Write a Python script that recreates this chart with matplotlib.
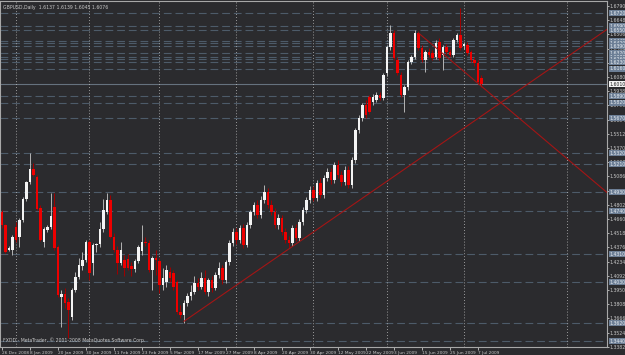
import matplotlib
matplotlib.use("Agg")
import matplotlib.pyplot as plt
import matplotlib.transforms as mtransforms
import numpy as np
import pandas as pd

# GBPUSD daily, 26 Dec 2008 - 8 Jul 2009
open_ = [1.473, 1.460, 1.435, 1.435, 1.458, 1.448, 1.465, 1.486, 1.503, 1.516,
         1.508, 1.477, 1.443, 1.455, 1.458, 1.478, 1.438, 1.388, 1.391, 1.383,
         1.368, 1.395, 1.408, 1.419, 1.425, 1.443, 1.422, 1.440, 1.441, 1.456,
         1.473, 1.485, 1.448, 1.435, 1.422, 1.425, 1.426, 1.419, 1.416, 1.424,
         1.434, 1.443, 1.442, 1.415, 1.427, 1.424, 1.400, 1.403, 1.413, 1.412,
         1.403, 1.373, 1.370, 1.382, 1.389, 1.393, 1.402, 1.398, 1.407, 1.393,
         1.405, 1.397, 1.410, 1.417, 1.405, 1.423, 1.442, 1.453, 1.445, 1.457,
         1.440, 1.460, 1.473, 1.480, 1.470, 1.485, 1.493, 1.480, 1.473, 1.460,
         1.467, 1.453, 1.445, 1.442, 1.457, 1.447, 1.463, 1.475, 1.485, 1.495,
         1.487, 1.502, 1.490, 1.507, 1.513, 1.505, 1.520, 1.510, 1.503, 1.515,
         1.500, 1.525, 1.555, 1.567, 1.580, 1.588, 1.583, 1.585, 1.590, 1.587,
         1.612, 1.638, 1.652, 1.625, 1.610, 1.590, 1.598, 1.623, 1.628, 1.652,
         1.637, 1.625, 1.633, 1.632, 1.628, 1.643, 1.630, 1.638, 1.633, 1.630,
         1.645, 1.650, 1.639, 1.640, 1.633, 1.625, 1.622, 1.607]
high = [1.475, 1.461, 1.439, 1.450, 1.463, 1.467, 1.488, 1.504, 1.532, 1.522,
        1.510, 1.480, 1.458, 1.460, 1.492, 1.492, 1.440, 1.395, 1.397, 1.387,
        1.397, 1.413, 1.427, 1.433, 1.445, 1.445, 1.442, 1.442, 1.463, 1.486,
        1.492, 1.490, 1.452, 1.439, 1.443, 1.430, 1.431, 1.423, 1.426, 1.440,
        1.460, 1.448, 1.445, 1.429, 1.435, 1.427, 1.417, 1.420, 1.418, 1.415,
        1.405, 1.380, 1.385, 1.392, 1.400, 1.409, 1.407, 1.413, 1.415, 1.407,
        1.409, 1.413, 1.423, 1.420, 1.425, 1.445, 1.457, 1.457, 1.460, 1.461,
        1.463, 1.475, 1.483, 1.485, 1.489, 1.500, 1.497, 1.485, 1.477, 1.471,
        1.470, 1.457, 1.449, 1.460, 1.461, 1.466, 1.478, 1.488, 1.499, 1.499,
        1.505, 1.507, 1.510, 1.517, 1.517, 1.523, 1.525, 1.514, 1.519, 1.519,
        1.528, 1.557, 1.570, 1.582, 1.585, 1.590, 1.591, 1.593, 1.593, 1.612,
        1.640, 1.660, 1.655, 1.628, 1.613, 1.600, 1.625, 1.630, 1.655, 1.654,
        1.640, 1.635, 1.637, 1.635, 1.645, 1.647, 1.640, 1.641, 1.636, 1.647,
        1.652, 1.677, 1.643, 1.643, 1.635, 1.628, 1.625, 1.610]
low = [1.457, 1.432, 1.434, 1.430, 1.443, 1.438, 1.463, 1.484, 1.501, 1.509,
       1.475, 1.444, 1.438, 1.453, 1.456, 1.435, 1.388, 1.358, 1.377, 1.347,
       1.365, 1.393, 1.406, 1.415, 1.423, 1.405, 1.410, 1.433, 1.438, 1.453,
       1.471, 1.447, 1.433, 1.411, 1.420, 1.409, 1.415, 1.409, 1.413, 1.422,
       1.430, 1.439, 1.413, 1.395, 1.410, 1.392, 1.395, 1.398, 1.403, 1.395,
       1.371, 1.367, 1.362, 1.379, 1.385, 1.391, 1.395, 1.396, 1.391, 1.389,
       1.393, 1.395, 1.407, 1.401, 1.402, 1.420, 1.439, 1.441, 1.442, 1.437,
       1.438, 1.457, 1.470, 1.467, 1.467, 1.482, 1.477, 1.470, 1.457, 1.456,
       1.450, 1.442, 1.437, 1.439, 1.444, 1.444, 1.460, 1.472, 1.482, 1.484,
       1.484, 1.487, 1.487, 1.504, 1.501, 1.502, 1.507, 1.499, 1.500, 1.497,
       1.497, 1.522, 1.552, 1.564, 1.567, 1.571, 1.580, 1.583, 1.585, 1.585,
       1.609, 1.635, 1.625, 1.610, 1.588, 1.573, 1.595, 1.621, 1.626, 1.635,
       1.623, 1.613, 1.628, 1.625, 1.626, 1.625, 1.615, 1.631, 1.628, 1.628,
       1.643, 1.635, 1.636, 1.630, 1.623, 1.619, 1.601, 1.598]
close = [1.460, 1.433, 1.437, 1.448, 1.445, 1.465, 1.486, 1.503, 1.516, 1.510,
         1.476, 1.445, 1.456, 1.458, 1.469, 1.437, 1.390, 1.391, 1.382, 1.375,
         1.395, 1.408, 1.420, 1.425, 1.443, 1.412, 1.440, 1.441, 1.456, 1.475,
         1.485, 1.448, 1.435, 1.422, 1.435, 1.417, 1.417, 1.416, 1.424, 1.438,
         1.443, 1.442, 1.415, 1.427, 1.425, 1.400, 1.407, 1.415, 1.407, 1.398,
         1.373, 1.370, 1.382, 1.389, 1.393, 1.402, 1.398, 1.407, 1.393, 1.405,
         1.397, 1.410, 1.417, 1.405, 1.423, 1.442, 1.453, 1.445, 1.457, 1.440,
         1.460, 1.473, 1.480, 1.470, 1.485, 1.493, 1.480, 1.473, 1.460, 1.467,
         1.453, 1.445, 1.442, 1.457, 1.447, 1.463, 1.475, 1.485, 1.495, 1.487,
         1.502, 1.490, 1.507, 1.513, 1.505, 1.520, 1.510, 1.503, 1.515, 1.500,
         1.525, 1.555, 1.567, 1.580, 1.570, 1.573, 1.588, 1.590, 1.587, 1.610,
         1.638, 1.652, 1.627, 1.612, 1.590, 1.598, 1.623, 1.628, 1.652, 1.637,
         1.625, 1.633, 1.630, 1.627, 1.642, 1.627, 1.638, 1.633, 1.630, 1.645,
         1.650, 1.637, 1.641, 1.632, 1.625, 1.622, 1.603, 1.601]

# horizontal levels drawn on the chart (dashed) and the bid line
levels = [1.672, 1.659, 1.655, 1.644, 1.642, 1.639, 1.632, 1.628, 1.626, 1.623,
          1.616, 1.589, 1.582, 1.567, 1.532, 1.521, 1.493, 1.474, 1.431, 1.403,
          1.362, 1.344]
price_ticks = [1.6790, 1.6648, 1.6506, 1.6364, 1.6222, 1.6080, 1.5938, 1.5796,
               1.5654, 1.5512, 1.5370, 1.5228, 1.5086, 1.4944, 1.4802, 1.4660,
               1.4518, 1.4376, 1.4234, 1.4092, 1.3950, 1.3808, 1.3666, 1.3524,
               1.3382]
# trendlines: two anchor points each (bar index, price)
trend_up = [(52, 1.3637), (131, 1.5545)]
trend_down = [(119, 1.652), (137, 1.5987)]
extra_vline = 161.4

title = "GBPUSD,Daily  1.6137 1.6139 1.6045 1.6076"
footer = "FXDD - MetaTrader, \u00a9 2001-2008 MetaQuotes Software Corp."

bg = "#2b2b2e"
fg = "#c8c8c8"
plt.rcParams["font.family"] = ["Liberation Sans Narrow", "DejaVu Sans"]
fs = 3.3

o = np.array(open_); h = np.array(high); l = np.array(low); c = np.array(close)
n = len(o)
idx = np.arange(n)

days = pd.bdate_range("2008-12-26", periods=n + 2)
days = days[days != pd.Timestamp("2009-01-01")][:n]

fig = plt.figure(figsize=(6.25, 3.55), dpi=100, facecolor=bg)
ax = fig.add_axes([0.0, 8 / 355, 607 / 625, 346 / 355], facecolor=bg)
ax.set_xlim(-0.57, 172.86)
ax.set_ylim(1.338, 1.684)

# horizontal levels
for lv in levels:
    ax.axhline(lv, color="#4d5b69", lw=0.8, ls=(0, (7, 3.5)), zorder=1)
ax.axhline(c[-1], color="#66727e", lw=0.8, zorder=1)

# month separators
for i in range(1, n):
    if days[i].month != days[i - 1].month:
        ax.axvline(i, color="#bdbdbd", lw=0.6, ls=(0, (1, 2.5)), zorder=1)
ax.axvline(extra_vline, color="#bdbdbd", lw=0.6, ls=(0, (1, 2.5)), zorder=1)

# candles
up = c >= o
ax.vlines(idx[up], l[up], h[up], color="#b4b4b4", lw=0.7, zorder=2)
ax.vlines(idx[~up], l[~up], h[~up], color="#a00000", lw=0.7, zorder=2)
body = np.maximum(np.abs(c - o), 0.0012)
ax.bar(idx[up], body[up], bottom=np.minimum(o, c)[up], width=0.6,
       color="#f4f4f4", linewidth=0, zorder=3)
ax.bar(idx[~up], body[~up], bottom=np.minimum(o, c)[~up], width=0.6,
       color="#ee0000", linewidth=0, zorder=3)

# trendlines (rays to the right edge)
for (x0, y0), (x1, y1) in (trend_up, trend_down):
    slope = (y1 - y0) / (x1 - x0)
    xe = ax.get_xlim()[1]
    ax.plot([x0, xe], [y0, y0 + slope * (xe - x0)], color="#a31515", lw=0.8, zorder=4)

# axes cosmetics
for s in ax.spines.values():
    s.set_color("#a8a8a8")
    s.set_linewidth(0.8)
ax.yaxis.tick_right()
ax.set_yticks(price_ticks)
ax.set_yticklabels([f"{t:.4f}" for t in price_ticks])
ax.tick_params(axis="y", colors=fg, labelsize=fs, length=1.2, width=0.6, pad=0.8)
xt = idx[::8]
ax.set_xticks(xt)
ax.set_xticklabels([f"{days[i].day} {days[i].strftime('%b %Y')}" for i in xt],
                   ha="left")
ax.tick_params(axis="x", colors=fg, labelsize=3.1, length=2, width=0.6, pad=1.2)

# price boxes for the levels
tr = mtransforms.blended_transform_factory(ax.transAxes, ax.transData)
for lv in levels:
    ax.text(1.004, lv, f"{lv:.4f}", transform=tr, fontsize=fs, color="#e6ebf0",
            va="center", ha="left", clip_on=False, zorder=6,
            bbox=dict(boxstyle="square,pad=0.15", fc="#6d7f96", ec="none"))
ax.text(1.004, c[-1], f"{c[-1]:.4f}", transform=tr, fontsize=fs, color="#202020",
        va="center", ha="left", clip_on=False, zorder=7,
        bbox=dict(boxstyle="square,pad=0.15", fc="#f2f2f2", ec="none"))

ax.text(0.005, 0.988, title, transform=ax.transAxes, fontsize=fs, color=fg,
        va="top", ha="left")
ax.text(0.005, 0.012, footer, transform=ax.transAxes, fontsize=fs, color=fg,
        va="bottom", ha="left")

fig.savefig("out.png", dpi=100, facecolor=bg)
